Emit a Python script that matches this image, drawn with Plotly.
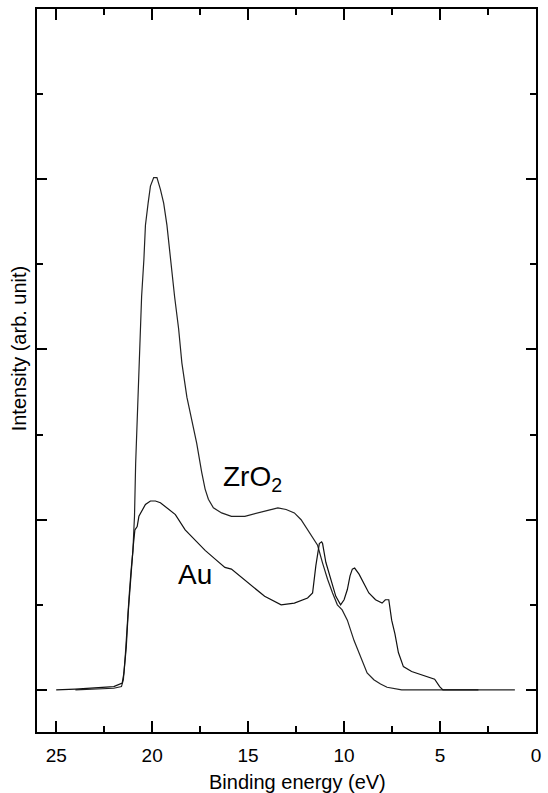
import plotly.graph_objects as go

# Binding energy (eV) and intensity (arb. unit)
zro2_energy = [24.0, 22.0, 21.6, 21.5, 21.4, 21.3, 21.2, 21.1, 21.0, 20.95, 20.92, 20.86,
               20.73, 20.66, 20.55, 20.43, 20.35, 20.21, 20.09, 19.92, 19.75, 19.57, 19.40,
               19.23, 19.05, 18.83, 18.62, 18.45, 18.19, 17.94, 17.68, 17.42, 17.24, 17.07,
               16.81, 16.38, 15.87, 15.17, 14.49, 13.97, 13.45, 13.02, 12.59, 12.24, 11.90,
               11.55, 11.38, 11.12, 10.86, 10.60, 10.35, 10.10, 9.83, 9.48, 9.14, 8.80,
               8.45, 8.10, 7.76, 7.24, 7.00, 1.1]
zro2_intensity = [0.0, 0.01, 0.02, 0.06, 0.20, 0.40, 0.55, 0.70, 0.82, 0.95, 1.02, 1.33,
                  1.72, 2.04, 2.31, 2.53, 2.73, 2.86, 2.96, 3.01, 3.01, 2.94, 2.86,
                  2.73, 2.53, 2.31, 2.12, 1.92, 1.72, 1.59, 1.45, 1.28, 1.18, 1.12,
                  1.07, 1.04, 1.02, 1.02, 1.04, 1.055, 1.07, 1.06, 1.04, 1.00, 0.94,
                  0.88, 0.85, 0.745, 0.65, 0.57, 0.50, 0.47, 0.41, 0.29, 0.20, 0.10,
                  0.06, 0.035, 0.016, 0.004, 0.0, 0.0]

au_energy = [25.0, 24.0, 22.0, 21.56, 21.47, 21.35, 21.25, 21.17, 21.07, 20.99, 20.90,
             20.78, 20.69, 20.52, 20.35, 20.09, 19.83, 19.57, 19.14, 18.79, 18.28, 17.76,
             17.24, 16.73, 16.21, 15.87, 15.00, 14.14, 13.28, 12.59, 11.90, 11.64, 11.47,
             11.29, 11.17, 11.12, 10.95, 10.69, 10.43, 10.18, 10.00, 9.83, 9.69, 9.57,
             9.45, 9.22, 8.97, 8.71, 8.36, 8.02, 7.85, 7.67, 7.52, 7.35, 7.17, 6.91,
             6.48, 5.80, 5.28, 5.02, 4.85, 3.0]
au_intensity = [0.0, 0.005, 0.02, 0.04, 0.10, 0.25, 0.45, 0.59, 0.73, 0.84, 0.94,
                0.96, 1.02, 1.06, 1.09, 1.11, 1.11, 1.10, 1.06, 1.03, 0.94, 0.88,
                0.82, 0.77, 0.72, 0.71, 0.63, 0.55, 0.50, 0.51, 0.54, 0.57, 0.73,
                0.86, 0.87, 0.86, 0.75, 0.65, 0.55, 0.50, 0.53, 0.59, 0.67, 0.71,
                0.716, 0.68, 0.63, 0.57, 0.53, 0.51, 0.53, 0.53, 0.41, 0.33, 0.22, 0.137,
                0.108, 0.08, 0.063, 0.02, 0.0, 0.0]

x_tick_values = [25, 20, 15, 10, 5, 0]
x_tick_labels = ["25", "20", "15", "10", "5", "0"]
y_tick_values = [0, 1, 2, 3, 4]

font_family = "Liberation Sans, Arial, Helvetica, sans-serif"

fig = go.Figure()
fig.add_trace(go.Scatter(x=zro2_energy, y=zro2_intensity, mode="lines",
                         line=dict(color="#222222", width=1.2), name="ZrO2"))
fig.add_trace(go.Scatter(x=au_energy, y=au_intensity, mode="lines",
                         line=dict(color="#111111", width=1.2), name="Au"))

fig.add_annotation(x=14.75, y=1.24, text="ZrO<sub>2</sub>",
                   showarrow=False, xanchor="center", yanchor="middle",
                   font=dict(size=28, color="black", family=font_family))
fig.add_annotation(x=17.75, y=0.68, text="Au", showarrow=False,
                   xanchor="center", yanchor="middle",
                   font=dict(size=28, color="black", family=font_family))

# axis titles placed as annotations to match reference positions
fig.add_annotation(xref="paper", yref="paper", x=0.522, y=-0.069,
                   xanchor="center", yanchor="middle",
                   text="Binding energy (eV)", showarrow=False,
                   font=dict(size=20, color="black", family=font_family))
fig.add_annotation(xref="paper", yref="paper", x=-0.037, y=0.53,
                   xanchor="center", yanchor="middle",
                   text="Intensity (arb. unit)", showarrow=False, textangle=-90,
                   font=dict(size=20, color="black", family=font_family))

fig.update_layout(
    width=548, height=793,
    margin=dict(l=37, r=7, t=9, b=61),
    paper_bgcolor="white", plot_bgcolor="white",
    showlegend=False,
    font=dict(family=font_family, color="black"),
    xaxis=dict(
        range=[26, 0], tickvals=x_tick_values, ticktext=x_tick_labels,
        ticks="inside", ticklen=11, tickwidth=2, tickcolor="black",
        showline=True, linewidth=2, linecolor="black", mirror="ticks",
        showgrid=False, zeroline=False,
        tickfont=dict(size=19), ticklabelstandoff=5,
        minor=dict(dtick=2.5, tick0=0, ticks="inside", ticklen=6, tickwidth=2,
                   tickcolor="black", showgrid=False),
    ),
    yaxis=dict(
        range=[-0.247, 4.0], tickvals=y_tick_values, showticklabels=False,
        ticks="inside", ticklen=10, tickwidth=2, tickcolor="black",
        showline=True, linewidth=2, linecolor="black", mirror="ticks",
        showgrid=False, zeroline=False,
        minor=dict(dtick=0.5, tick0=0, ticks="inside", ticklen=6, tickwidth=2,
                   tickcolor="black", showgrid=False),
    ),
)

fig.write_html("out.html")
